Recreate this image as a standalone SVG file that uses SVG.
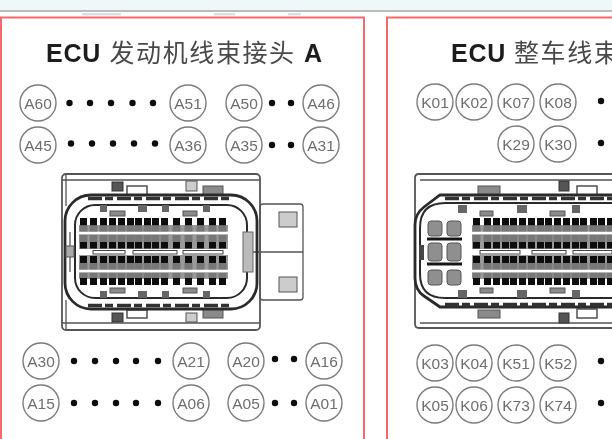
<svg xmlns="http://www.w3.org/2000/svg" width="612" height="439" viewBox="0 0 612 439">
<style>
.frame{fill:#fff;stroke:#f4686e;stroke-width:2}
.ttl{font-family:"Liberation Sans","Noto Sans CJK SC",sans-serif;font-size:25px;fill:#222}
.b{font-weight:700;fill:#1c1c1c;letter-spacing:.8px}
.cjk{fill:#4a4a4a;letter-spacing:1.600px}
.pin circle{fill:none;stroke:#7c7c7c;stroke-width:1.400}
.pin text{font-family:"Liberation Sans",sans-serif;font-size:15.500px;fill:#6e6e6e;text-anchor:middle}
.dot{fill:#0c0c0c}
.ln{fill:none;stroke:#555;stroke-width:1.300}
.thk{fill:none;stroke:#2c2c2c;stroke-width:2.800}
.dk{fill:#555;stroke:#333}
.gy{fill:#8a8a8a;stroke:#555}
.lt{fill:#ccc;stroke:#555}
.wt{fill:#fff;stroke:#444;stroke-width:1.400}
.blk{fill:#0d0d0d}
.mid{fill:#777}
.cv{fill:#8f8f8f;stroke:#555}
</style>
<defs>
<filter id="soft" x="-5%" y="-5%" width="110%" height="110%"><feGaussianBlur stdDeviation="0.5"/></filter>
<g id="pc">
<rect class="blk" x="0" y="0" width="7" height="7.500"/>
<rect class="mid" x="-0.500" y="7.500" width="8" height="6.500"/>
<rect class="mid" x="-0.500" y="17" width="8" height="7"/>
<rect class="blk" x="0" y="24" width="7" height="6.500"/>
<rect class="blk" x="0" y="38" width="7" height="7"/>
<rect class="mid" x="-0.500" y="45" width="8" height="7"/>
<rect class="mid" x="-0.500" y="55" width="8" height="5"/>
<rect class="blk" x="0" y="60" width="7" height="7"/>
</g>
</defs>
<rect x="0" y="0" width="612" height="10" fill="#eff7f9"/>
<rect x="0" y="10" width="612" height="2" fill="#bbb"/>
<g fill="#dcdfe2" filter="url(#soft)">
<rect x="82" y="13" width="39" height="2.500"/>
<rect x="214" y="13" width="21" height="2.500"/>
<rect x="288" y="13" width="13" height="2.500"/>
</g>
<g id="panel-a" filter="url(#soft)">
<rect class="frame" x="1" y="17.500" width="363" height="440"/>
<text class="ttl" x="46" y="62"><tspan class="b">ECU</tspan><tspan class="cjk" x="109.500">发动机线束接头</tspan><tspan class="b" x="304">A</tspan></text>
</g>
<g id="panel-k" filter="url(#soft)">
<rect class="frame" x="387" y="17.500" width="300" height="440"/>
<text class="ttl" x="451" y="62"><tspan class="b">ECU</tspan><tspan class="cjk" x="514">整车线束</tspan></text>
</g>
<g id="connector-a" filter="url(#soft)">
<rect class="ln" x="260" y="204" width="43" height="96" rx="3"/>
<rect class="lt" x="279" y="212" width="18" height="15"/>
<rect class="lt" x="279" y="277" width="18" height="15"/>
<path class="ln" d="M243 252H303"/>
<rect class="ln" style="stroke-width:1.800" x="62" y="174" width="198" height="156" rx="4"/>
<path class="ln" d="M62 180H260M62 323H260M66 174V206M66 300V330"/>
<rect class="dk" x="112" y="182" width="11" height="9"/><rect class="wt" x="127" y="186" width="20" height="9"/>
<rect class="lt" x="186" y="181" width="11" height="10"/><rect class="gy" x="203" y="186" width="20" height="9"/>
<rect class="dk" x="112" y="313" width="11" height="9"/><rect class="wt" x="127" y="310" width="20" height="8"/>
<rect class="lt" x="186" y="313" width="11" height="9"/><rect class="gy" x="203" y="309" width="20" height="9"/>
<rect class="thk" x="65" y="195" width="192" height="114" rx="26"/>
<path d="M88 198.500H232M88 305.500H232" stroke="#333" stroke-width="3.500" stroke-dasharray="14 3 8 4"/>
<rect class="thk" style="stroke-width:2" x="75" y="205" width="172" height="93" rx="20"/>
<path class="ln" d="M70 232V272"/>
<g fill="#666"><rect x="100" y="205" width="7" height="7"/><rect x="138" y="205" width="9" height="7"/><rect x="162" y="205" width="7" height="7"/><rect x="203" y="205" width="7" height="7"/>
<rect x="100" y="291" width="7" height="7"/><rect x="138" y="291" width="9" height="7"/><rect x="162" y="291" width="7" height="7"/><rect x="203" y="291" width="7" height="7"/></g>
<rect class="gy" x="110" y="211" width="15" height="5"/><rect class="gy" x="183" y="211" width="14" height="5"/>
<rect class="gy" x="110" y="288" width="15" height="5"/><rect class="gy" x="183" y="288" width="14" height="5"/>
<rect x="79" y="225" width="149" height="54" fill="#9a9a9a"/>
<g>
<use href="#pc" x="80" y="218"/><use href="#pc" x="90" y="218"/><use href="#pc" x="100" y="218"/><use href="#pc" x="109" y="218"/><use href="#pc" x="118" y="218"/><use href="#pc" x="127" y="218"/><use href="#pc" x="135" y="218"/><use href="#pc" x="144" y="218"/><use href="#pc" x="152" y="218"/><use href="#pc" x="161" y="218"/><use href="#pc" x="173" y="218"/><use href="#pc" x="185" y="218"/><use href="#pc" x="197" y="218"/><use href="#pc" x="209" y="218"/><use href="#pc" x="219" y="218"/>
</g>
<path d="M78 233H228M78 271H228" stroke="#fff" stroke-width="2.500"/>
<rect x="79" y="249" width="149" height="6" fill="#fff"/>
<g class="wt" style="stroke-width:1"><rect x="93" y="250.500" width="32" height="3.500"/><rect x="133" y="250.500" width="44" height="3.500"/><rect x="183" y="250.500" width="40" height="3.500"/></g>
<rect x="243" y="232" width="10" height="40" fill="#bbb" stroke="#666"/>
<rect x="66" y="246" width="8" height="11" fill="#aaa" stroke="#555"/>
</g>
<g id="connector-k" filter="url(#soft)">
<path class="ln" style="stroke-width:1.800" d="M620 174H419Q415 174 415 178V324Q415 328 419 328H620"/>
<path class="ln" d="M420 180H620M420 323H620"/>
<rect class="gy" x="478" y="186" width="22" height="9"/><rect class="dk" x="559" y="181" width="10" height="10"/><rect class="wt" x="577" y="186" width="20" height="9"/>
<rect class="gy" x="478" y="310" width="22" height="8"/><rect class="dk" x="559" y="313" width="10" height="10"/><rect class="wt" x="577" y="309" width="20" height="9"/>
<path class="thk" d="M620 195H440L424 207Q415 214 415 225V278Q415 290 424 296L440 307H620"/>
<path d="M445 198.500H612M445 304.500H612" stroke="#333" stroke-width="3.500" stroke-dasharray="14 3 8 4"/>
<path class="thk" style="stroke-width:2" d="M620 203H445Q420 203 420 228V274Q420 298 445 298H620"/>
<g fill="#666"><rect x="458" y="205" width="9" height="8"/><rect x="517" y="205" width="10" height="8"/><rect x="572" y="205" width="8" height="8"/>
<rect x="458" y="290" width="9" height="8"/><rect x="517" y="290" width="10" height="8"/><rect x="572" y="290" width="8" height="8"/></g>
<rect class="gy" x="480" y="211" width="13" height="5"/><rect class="gy" x="550" y="211" width="15" height="5"/>
<rect class="gy" x="480" y="288" width="13" height="5"/><rect class="gy" x="550" y="288" width="15" height="5"/>
<rect class="cv" x="428" y="221" width="14" height="15" rx="3"/><rect class="cv" x="447" y="221" width="14" height="15" rx="3"/>
<rect class="cv" x="428" y="243" width="14" height="18" rx="3"/><rect class="cv" x="447" y="243" width="14" height="18" rx="3"/>
<rect class="cv" x="428" y="270" width="14" height="15" rx="3"/><rect class="cv" x="447" y="270" width="14" height="15" rx="3"/>
<path d="M427 239H462M427 264H462" stroke="#151515" stroke-width="3"/>
<rect x="419" y="245" width="5" height="15" fill="#444"/>
<rect x="472" y="225" width="140" height="54" fill="#9a9a9a"/>
<g>
<use href="#pc" x="473" y="218"/><use href="#pc" x="484" y="218"/><use href="#pc" x="493" y="218"/><use href="#pc" x="502" y="218"/><use href="#pc" x="510" y="218"/><use href="#pc" x="519" y="218"/><use href="#pc" x="528" y="218"/><use href="#pc" x="537" y="218"/><use href="#pc" x="545" y="218"/><use href="#pc" x="554" y="218"/><use href="#pc" x="563" y="218"/><use href="#pc" x="572" y="218"/><use href="#pc" x="580" y="218"/><use href="#pc" x="590" y="218"/><use href="#pc" x="598" y="218"/><use href="#pc" x="607" y="218"/>
</g>
<path d="M472 233H612M472 271H612" stroke="#fff" stroke-width="2.500"/>
<rect x="472" y="249" width="140" height="6" fill="#fff"/>
<g class="wt" style="stroke-width:1"><rect x="480" y="250.500" width="40" height="3.500"/><rect x="532" y="250.500" width="34" height="3.500"/><rect x="573" y="250.500" width="39" height="3.500"/></g>
</g>
<g id="pins-a" filter="url(#soft)">
<g class="pin" id="A60"><circle cx="38" cy="103" r="18"/><text x="38" y="108.500">A60</text></g>
<g class="pin" id="A51"><circle cx="188" cy="103" r="18"/><text x="188" y="108.500">A51</text></g>
<g class="pin" id="A50"><circle cx="244" cy="103" r="18"/><text x="244" y="108.500">A50</text></g>
<g class="pin" id="A46"><circle cx="321" cy="103" r="18"/><text x="321" y="108.500">A46</text></g>
<g class="pin" id="A45"><circle cx="38" cy="145" r="18"/><text x="38" y="150.500">A45</text></g>
<g class="pin" id="A36"><circle cx="188" cy="145" r="18"/><text x="188" y="150.500">A36</text></g>
<g class="pin" id="A35"><circle cx="244" cy="145" r="18"/><text x="244" y="150.500">A35</text></g>
<g class="pin" id="A31"><circle cx="321" cy="145" r="18"/><text x="321" y="150.500">A31</text></g>
<g class="pin" id="A30"><circle cx="41" cy="361" r="18"/><text x="41" y="366.500">A30</text></g>
<g class="pin" id="A21"><circle cx="191" cy="361" r="18"/><text x="191" y="366.500">A21</text></g>
<g class="pin" id="A20"><circle cx="246" cy="361" r="18"/><text x="246" y="366.500">A20</text></g>
<g class="pin" id="A16"><circle cx="324" cy="361" r="18"/><text x="324" y="366.500">A16</text></g>
<g class="pin" id="A15"><circle cx="41" cy="403" r="18"/><text x="41" y="408.500">A15</text></g>
<g class="pin" id="A06"><circle cx="191" cy="403" r="18"/><text x="191" y="408.500">A06</text></g>
<g class="pin" id="A05"><circle cx="246" cy="403" r="18"/><text x="246" y="408.500">A05</text></g>
<g class="pin" id="A01"><circle cx="324" cy="403" r="18"/><text x="324" y="408.500">A01</text></g>
</g>
<g id="pins-k" filter="url(#soft)">
<g class="pin" id="K01"><circle cx="435" cy="102" r="18"/><text x="435" y="107.500">K01</text></g>
<g class="pin" id="K02"><circle cx="474" cy="102" r="18"/><text x="474" y="107.500">K02</text></g>
<g class="pin" id="K07"><circle cx="516" cy="102" r="18"/><text x="516" y="107.500">K07</text></g>
<g class="pin" id="K08"><circle cx="558" cy="102" r="18"/><text x="558" y="107.500">K08</text></g>
<g class="pin" id="K29"><circle cx="516" cy="144" r="18"/><text x="516" y="149.500">K29</text></g>
<g class="pin" id="K30"><circle cx="558" cy="144" r="18"/><text x="558" y="149.500">K30</text></g>
<g class="pin" id="K03"><circle cx="435" cy="363" r="18"/><text x="435" y="368.500">K03</text></g>
<g class="pin" id="K04"><circle cx="474" cy="363" r="18"/><text x="474" y="368.500">K04</text></g>
<g class="pin" id="K51"><circle cx="516" cy="363" r="18"/><text x="516" y="368.500">K51</text></g>
<g class="pin" id="K52"><circle cx="558" cy="363" r="18"/><text x="558" y="368.500">K52</text></g>
<g class="pin" id="K05"><circle cx="435" cy="405" r="18"/><text x="435" y="410.500">K05</text></g>
<g class="pin" id="K06"><circle cx="474" cy="405" r="18"/><text x="474" y="410.500">K06</text></g>
<g class="pin" id="K73"><circle cx="516" cy="405" r="18"/><text x="516" y="410.500">K73</text></g>
<g class="pin" id="K74"><circle cx="558" cy="405" r="18"/><text x="558" y="410.500">K74</text></g>
</g>
<g id="dots" class="dot" filter="url(#soft)">
<circle cx="69.500" cy="103" r="3.200"/><circle cx="90" cy="103" r="3.200"/><circle cx="111" cy="103" r="3.200"/><circle cx="132.500" cy="103" r="3.200"/><circle cx="153" cy="103" r="3.200"/><circle cx="272" cy="103" r="3.200"/><circle cx="291" cy="103" r="3.200"/>
<circle cx="71" cy="143.500" r="3.200"/><circle cx="92" cy="143.500" r="3.200"/><circle cx="113" cy="143.500" r="3.200"/><circle cx="134" cy="143.500" r="3.200"/><circle cx="155" cy="143.500" r="3.200"/><circle cx="272" cy="145" r="3.200"/><circle cx="291" cy="145" r="3.200"/>
<circle cx="74" cy="361" r="3.200"/><circle cx="95" cy="361" r="3.200"/><circle cx="116" cy="361" r="3.200"/><circle cx="136" cy="361" r="3.200"/><circle cx="158" cy="361" r="3.200"/><circle cx="275" cy="359" r="3.200"/><circle cx="294" cy="359" r="3.200"/>
<circle cx="74" cy="403" r="3.200"/><circle cx="95" cy="403" r="3.200"/><circle cx="116" cy="403" r="3.200"/><circle cx="136" cy="403" r="3.200"/><circle cx="158" cy="403" r="3.200"/><circle cx="275" cy="403" r="3.200"/><circle cx="294" cy="403" r="3.200"/>
<circle cx="601" cy="101" r="3.200"/><circle cx="601" cy="143" r="3.200"/><circle cx="601" cy="361" r="3.200"/><circle cx="601" cy="403" r="3.200"/>
</g>
</svg>
